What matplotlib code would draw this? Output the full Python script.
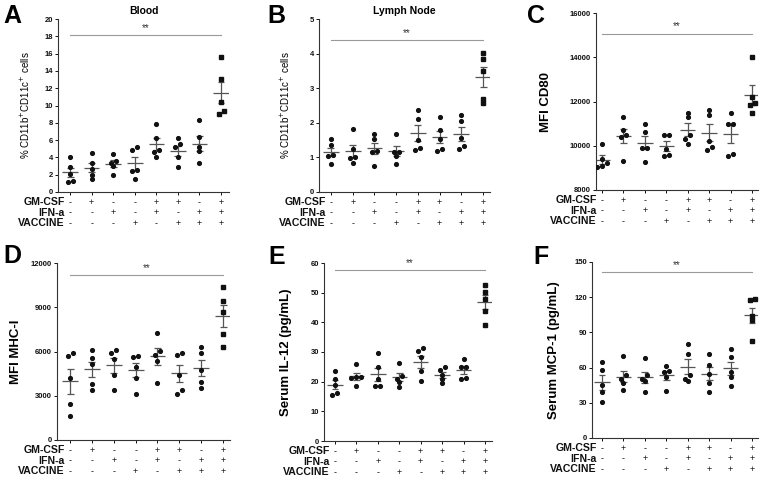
import numpy as np
import matplotlib
matplotlib.use('Agg')
import matplotlib.pyplot as plt

plt.rcParams['font.family'] = ['Liberation Sans', 'DejaVu Sans']

# treatment table under each panel
row_labels = ['GM-CSF', 'IFN-a', 'VACCINE']
gm_csf = ['-', '+', '-', '-', '+', '+', '-', '+']
ifn_a = ['-', '-', '+', '-', '+', '-', '+', '+']
vaccine = ['-', '-', '-', '+', '-', '+', '+', '+']

# per-mouse values, 8 groups x 5 mice
blood = [[4.0, 2.9, 2.1, 1.25, 1.1], [4.5, 3.3, 2.7, 2.0, 1.5],
         [4.4, 3.6, 3.3, 3.0, 2.0], [5.2, 4.8, 2.6, 2.4, 1.5],
         [7.9, 6.2, 4.9, 4.6, 4.0], [6.2, 5.6, 5.2, 4.0, 2.9],
         [8.3, 6.4, 5.2, 4.7, 3.3], [15.6, 13.1, 10.4, 9.4, 9.0]]
lymph = [[1.52, 1.36, 1.06, 1.05, 0.80], [1.82, 1.24, 1.02, 0.97, 0.84],
         [1.68, 1.52, 1.18, 1.17, 0.76], [1.69, 1.17, 1.15, 1.05, 0.80],
         [2.37, 2.12, 1.50, 1.28, 1.20], [2.18, 1.80, 1.53, 1.25, 1.19],
         [2.23, 2.04, 1.55, 1.33, 1.23], [4.02, 3.84, 3.51, 2.68, 2.56]]
cd80 = [[10100, 9400, 9200, 9100, 9050], [11300, 10700, 10500, 10400, 9330],
        [11000, 10600, 9920, 9900, 9280], [10500, 10480, 9850, 9600, 9540],
        [11500, 11300, 10470, 10300, 10100], [11600, 11400, 10200, 9940, 9830],
        [11500, 11000, 10980, 9620, 9540], [14000, 12220, 11920, 11820, 11500]]
mhc = [[5930, 5720, 4200, 2440, 1650], [6100, 5540, 5160, 3780, 3370],
       [6100, 5930, 5480, 4410, 3370], [5680, 5640, 4980, 4190, 3140],
       [7280, 6040, 5770, 5380, 3850], [5750, 5930, 4390, 3370, 3120],
       [6290, 5930, 4730, 3910, 3550], [10360, 9430, 8690, 7170, 6290]]
il12 = [[23.5, 21.0, 19.0, 16.2, 15.5], [25.8, 21.6, 21.5, 21.4, 18.7],
        [29.7, 25.0, 20.8, 18.6, 18.5], [26.2, 22.0, 20.9, 19.8, 18.2],
        [31.2, 30.3, 28.3, 23.5, 20.3], [25.0, 23.8, 22.4, 21.0, 19.4],
        [27.8, 25.1, 25.0, 21.2, 20.8], [52.5, 50.1, 47.9, 43.9, 39.2]]
mcp1 = [[65.1, 58.0, 45.3, 38.8, 30.6], [69.9, 53.5, 50.1, 47.3, 40.8],
        [68.2, 53.5, 50.1, 48.4, 39.6], [61.1, 56.9, 56.0, 52.4, 40.0],
        [79.8, 71.3, 53.5, 50.1, 48.7], [71.6, 62.0, 54.3, 47.3, 39.6],
        [75.6, 68.8, 56.0, 52.1, 44.7], [118.3, 118.0, 103.9, 100.2, 82.9]]

W, H = 765, 479

panels = [
    dict(data=blood, letter='A', lpos=(3, 4), box=(58, 19, 229, 192), xlim=(-0.56, 7.37),
         ylim=(0, 20), step=2, ylabel='% CD11b$^{+}$CD11c$^{+}$ cells', small=True,
         title='Blood', sig=18.1, lx=-0.152),
    dict(data=lymph, letter='B', lpos=(267, 4), box=(319, 19, 490, 192), xlim=(-0.55, 7.32),
         ylim=(0, 5), step=1, ylabel='% CD11b$^{+}$CD11c$^{+}$ cells', small=True,
         title='Lymph Node', sig=4.39, lx=-0.16),
    dict(data=cd80, letter='C', lpos=(527, 4), box=(596, 13, 758, 190), xlim=(-0.28, 7.28),
         ylim=(8000, 16000), step=2000, ylabel='MFI CD80', small=False,
         title=None, sig=15070, lx=-0.27),
    dict(data=mhc, letter='D', lpos=(3, 244), box=(57, 263, 230, 440), xlim=(-0.6, 7.32),
         ylim=(0, 12000), step=3000, ylabel='MFI MHC-I', small=False,
         title=None, sig=11180, lx=-0.20),
    dict(data=il12, letter='E', lpos=(268, 245), box=(324, 263, 492, 441), xlim=(-0.51, 7.33),
         ylim=(0, 60), step=10, ylabel='Serum IL-12 (pg/mL)', small=False,
         title=None, sig=57.5, lx=-0.19),
    dict(data=mcp1, letter='F', lpos=(533, 245), box=(592, 262, 758, 438), xlim=(-0.47, 7.28),
         ylim=(0, 150), step=30, ylabel='Serum MCP-1 (pg/mL)', small=False,
         title=None, sig=141.5, lx=-0.19),
]


def swarm(vals, px_y, px_x, thr=4.0, gap=5.0):
    # GraphPad-like spread: points closer than thr px share a row
    vals = np.asarray(vals, dtype=float)
    order = np.argsort(vals)[::-1]
    rows = []
    for i in order:
        if rows and (vals[rows[-1][0]] - vals[i]) * px_y < thr:
            rows[-1].append(i)
        else:
            rows.append([i])
    offs = np.zeros(len(vals))
    for r in rows:
        r = sorted(r, key=lambda j: vals[j])
        n = len(r)
        for k, i in enumerate(r):
            offs[i] = (k - (n - 1) / 2) * gap / px_x
    return offs


fig = plt.figure(figsize=(W / 100, H / 100), dpi=100)
ink = '#111111'
bar_c = '#555555'

for p in panels:
    l, t, r, b = p['box']
    ax = fig.add_axes([l / W, 1 - b / H, (r - l) / W, (b - t) / H])
    ax.set_xlim(*p['xlim'])
    ax.set_ylim(*p['ylim'])
    px_y = (b - t) / (p['ylim'][1] - p['ylim'][0])
    px_x = (r - l) / (p['xlim'][1] - p['xlim'][0])
    x = np.arange(8)

    for i, grp in enumerate(p['data']):
        vals = np.array(grp, dtype=float)
        xs = i + swarm(vals, px_y, px_x)
        ax.plot(xs, vals, ls='none', marker='s' if i == 7 else 'o',
                ms=2.5 if i == 7 else 2.7, color=ink, mec=ink, zorder=3)
        m = vals.mean()
        sem = vals.std(ddof=1) / np.sqrt(len(vals))
        ax.hlines(m, i - 0.36, i + 0.36, color=bar_c, lw=0.9, zorder=2)
        ax.hlines([m - sem, m + sem], i - 0.16, i + 0.16, color=bar_c, lw=0.9, zorder=2)
        ax.vlines(i, m - sem, m + sem, color=bar_c, lw=0.9, zorder=2)

    # significance bar
    ax.plot([0, 7], [p['sig'], p['sig']], color='#9a9a9a', lw=0.8)
    ax.annotate('**', xy=(3.5, p['sig']), xytext=(0, 1.5), textcoords='offset points',
                ha='center', va='bottom', fontsize=7, color='#333333')

    ax.set_yticks(np.arange(p['ylim'][0], p['ylim'][1] + p['step'] / 2, p['step']))
    ax.set_xticks(x)
    ax.set_xticklabels([])
    ax.tick_params(axis='y', labelsize=5.5, length=2, width=0.7, pad=1.5, colors=ink)
    ax.tick_params(axis='x', length=2, width=0.7, colors=ink)
    for lab in ax.get_yticklabels():
        lab.set_fontweight('bold')
    for s in ['top', 'right']:
        ax.spines[s].set_visible(False)
    for s in ['left', 'bottom']:
        ax.spines[s].set_linewidth(0.8)
        ax.spines[s].set_color('#333333')

    if p['small']:
        ax.set_ylabel(p['ylabel'], fontsize=7)
    else:
        ax.set_ylabel(p['ylabel'], fontsize=9.5, fontweight='bold')
    ax.yaxis.set_label_coords(p['lx'], 0.5)

    if p['title']:
        ax.text(0.5, 1.02, p['title'], transform=ax.transAxes, ha='center', va='bottom',
                fontsize=7.5, fontweight='bold')

    # treatment rows
    for k, (name, signs) in enumerate(zip(row_labels, [gm_csf, ifn_a, vaccine])):
        dy = -7.4 - k * 7.6
        ax.annotate(name, xy=(-0.25, 0), xycoords=('data', 'axes fraction'),
                    xytext=(0, dy), textcoords='offset points', ha='right', va='center',
                    fontsize=7.6, fontweight='bold', color=ink, annotation_clip=False)
        for i, sgn in enumerate(signs):
            ax.annotate(sgn, xy=(i, 0), xycoords=('data', 'axes fraction'),
                        xytext=(0, dy), textcoords='offset points', ha='center', va='center',
                        fontsize=6.5, color=ink, annotation_clip=False)

    fig.text(p['lpos'][0] / W, 1 - p['lpos'][1] / H, p['letter'], ha='left', va='top',
             fontsize=18, fontweight='bold')

fig.savefig('out.png', dpi=100)
